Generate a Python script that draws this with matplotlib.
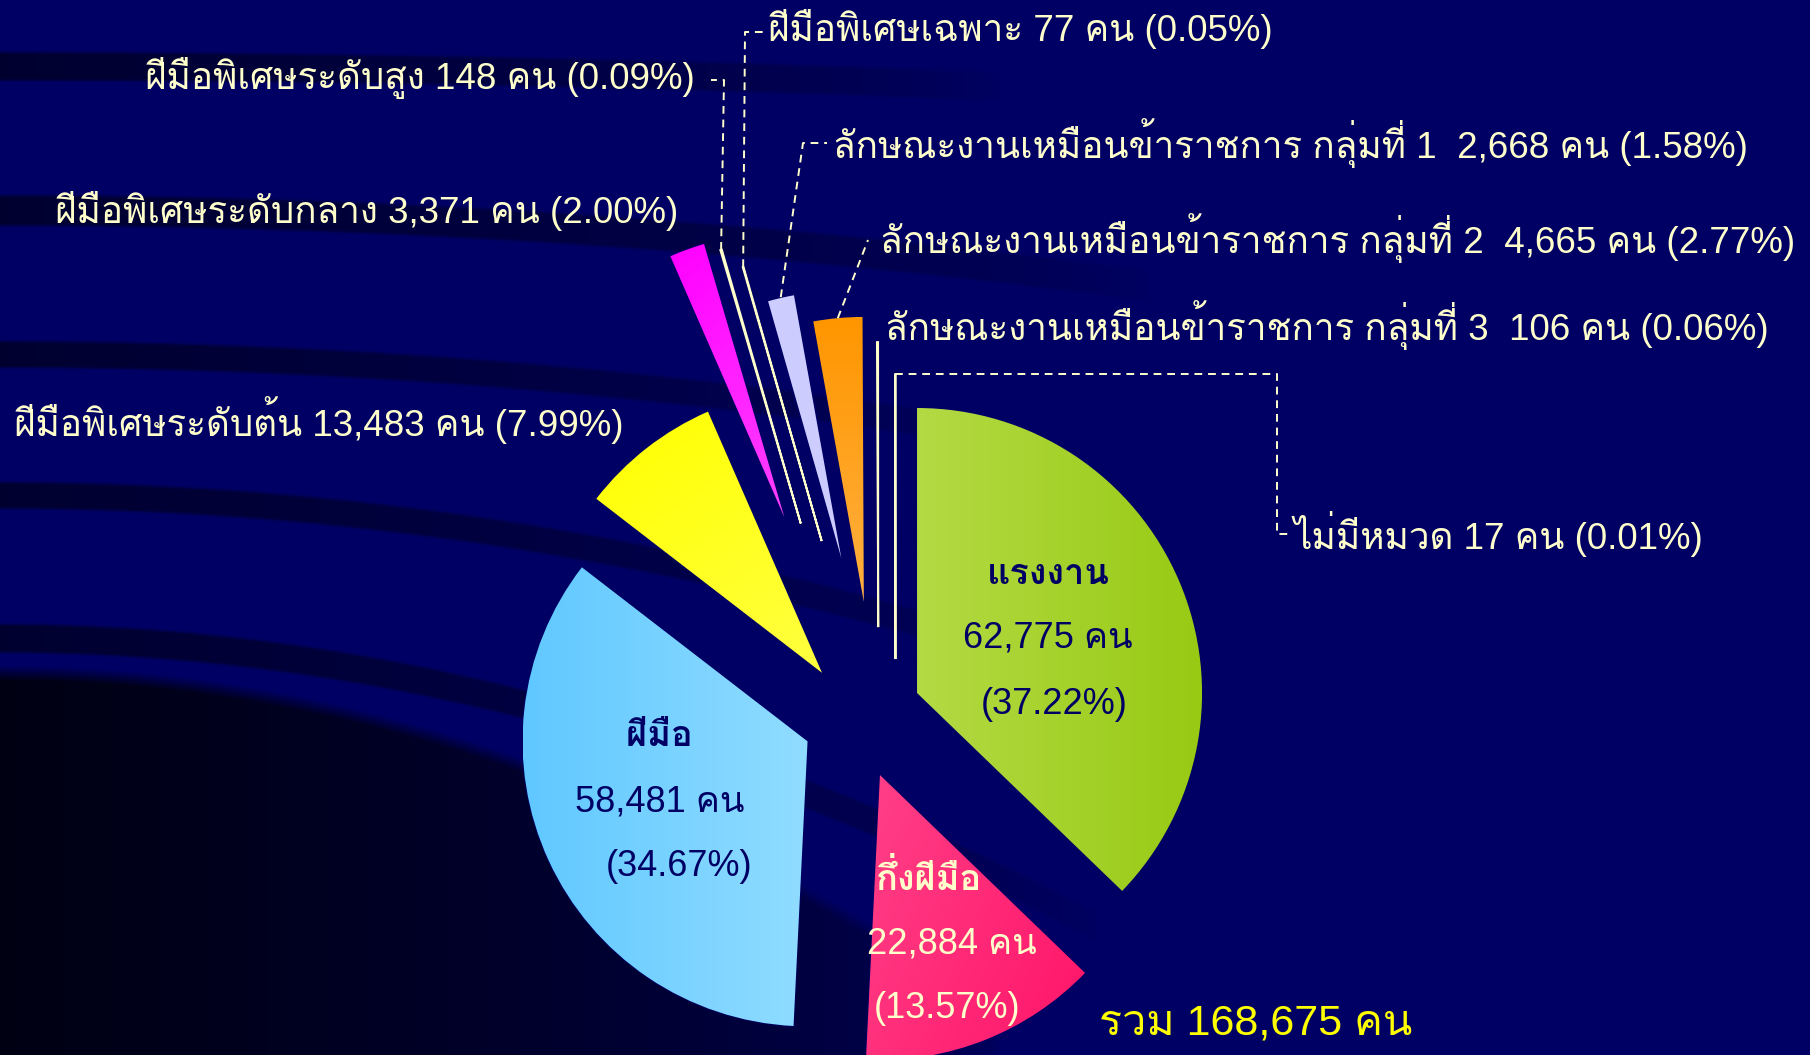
import numpy as np
import matplotlib
matplotlib.use('Agg')
import matplotlib.pyplot as plt
from matplotlib.colors import to_rgb

# ---- data ----
labels = ['แรงงาน', 'กึ่งฝีมือ', 'ฝีมือ', 'ฝีมือพิเศษระดับต้น', 'ฝีมือพิเศษระดับกลาง',
          'ฝีมือพิเศษระดับสูง', 'ฝีมือพิเศษเฉพาะ',
          'ลักษณะงานเหมือนข้าราชการ กลุ่มที่ 1', 'ลักษณะงานเหมือนข้าราชการ กลุ่มที่ 2',
          'ลักษณะงานเหมือนข้าราชการ กลุ่มที่ 3', 'ไม่มีหมวด']
counts = [62775, 22884, 58481, 13483, 3371, 148, 77, 2668, 4665, 106, 17]
percents = [37.22, 13.57, 34.67, 7.99, 2.00, 0.09, 0.05, 1.58, 2.77, 0.06, 0.01]
total = 168675

# ---- style ----
W, H = 1810, 1055
NAVY = '#000064'
CREAM = '#FFFFCC'
FONT = ['Liberation Sans', 'Loma']
plt.rcParams['font.family'] = FONT

colors = ['#A8D22E', '#FF2A78', '#78D2FF', '#FFFF22', '#FF22FF',
          CREAM, CREAM, '#CCCCFF', '#FFA020', CREAM, CREAM]
# gradient (start colour, end colour, direction in degrees)
grads = {0: ('#B4DA44', '#98CA14', 0), 1: ('#FF4088', '#FF1468', -30),
         2: ('#60C8FF', '#90DCFF', 0), 3: ('#FFFF00', '#FFFF40', -60),
         4: ('#FF00FF', '#FF40FF', -70), 8: ('#FF9600', '#FFB040', -90)}
thin = [5, 6, 9, 10]
R = 285
explode = [0.227, 0.214, 0.193, 0.2025, 0.75, 0.712, 0.647, 0.517, 0.41, 0.32, 0.208]
nudge_x = [0, 0, 0, 0, 0, 0, 15, 21, 17, 21, 38]
cx, cy = 857.5, H - 718.3

fig = plt.figure(figsize=(18.1, 10.55), dpi=100)
ax = fig.add_axes([0, 0, 1, 1])

# background with dark swooshes
yy, xx = np.mgrid[0:H, 0:W].astype(float)
shade = np.zeros((H, W))
for y0, b, hw, fade in [(66, 2e-5, 14, 1000), (210, 5.7e-5, 15, 1150),
                        (354, 8e-5, 13, 1000), (495, 1.52e-4, 13, 1050),
                        (638, 2.4e-4, 14, 1100)]:
    d = np.abs(yy - (y0 + b * xx ** 2))
    m = np.clip((hw - d) / 4 + 0.5, 0, 1) * np.clip(1 - xx / fade, 0, 1) ** 0.6
    shade = np.maximum(shade, 0.55 * m)
yb = 665 + 3.4e-4 * xx ** 2
m = np.clip((yy - yb) / 15, 0, 1) * np.clip(1 - xx / 1000, 0, 1) ** 0.5
shade = np.maximum(shade, 0.85 * m)
base = np.array(to_rgb(NAVY))
bg = base[None, None, :] * (1 - shade[..., None]) + np.array([0, 0, 0.02])[None, None, :] * shade[..., None]
ax.imshow(bg, extent=[0, W, 0, H], origin='upper', zorder=0, interpolation='bilinear')

# explode is given in data units by ax.pie, so scale by the radius
wedges, _ = ax.pie(counts, explode=[e * R for e in explode], center=(cx, cy), radius=R,
                   startangle=90, counterclock=False, colors=colors,
                   wedgeprops=dict(edgecolor=NAVY, linewidth=1.2))
for i, w in enumerate(wedges):
    x0, y0 = w.center
    w.set_center((x0 + nudge_x[i], y0))
for i in thin:
    wedges[i].set_edgecolor(CREAM)
    wedges[i].set_linewidth(1.4)
    wedges[i].set_zorder(2)

# gradient fill clipped to the wedges
gx, gy = np.meshgrid(np.linspace(0, 1, 80), np.linspace(0, 1, 80))
for i, (c0, c1, ang) in grads.items():
    w = wedges[i]
    ext = w.get_path().get_extents()
    a = np.deg2rad(ang)
    s = gx * np.cos(a) + gy * np.sin(a)
    s = (s - s.min()) / (s.max() - s.min())
    img = np.array(to_rgb(c0)) * (1 - s[..., None]) + np.array(to_rgb(c1)) * s[..., None]
    im = ax.imshow(img, extent=[ext.x0, ext.x1, ext.y0, ext.y1], origin='lower',
                   zorder=1.5, interpolation='bilinear')
    im.set_clip_path(w)


def top_point(i):
    w = wedges[i]
    mid = np.deg2rad((w.theta1 + w.theta2) / 2)
    return w.center[0] + w.r * np.cos(mid), w.center[1] + w.r * np.sin(mid)


# leader lines (layout points in screen pixels, y from top)
leaders = {6: [(745, 32), (763, 32)], 5: [(724, 80), (711, 80)],
           7: [(803, 143), (827, 143)], 8: [(868, 240)]}
for i, pts in leaders.items():
    tx, ty = top_point(i)
    xs = [tx] + [p[0] for p in pts]
    ys = [ty] + [H - p[1] for p in pts]
    ax.plot(xs, ys, color=CREAM, lw=1.4, dashes=(4, 3), zorder=3)
tx, ty = top_point(10)
ax.plot([tx, 1277, 1277, 1288], [ty, ty, H - 534, H - 534], color=CREAM, lw=1.4,
        dashes=(4, 3), zorder=3)

# outer labels
FS = 26.5
outer = {3: (14, 420, 'left'), 4: (55, 211, 'left'), 5: (695, 78, 'right'),
         6: (768, 29, 'left'), 7: (833, 143, 'left'), 8: (880, 238, 'left'),
         9: (885, 325, 'left'), 10: (1293, 534, 'left')}
for i, (x, y, ha) in outer.items():
    gap = '  ' if 'กลุ่ม' in labels[i] else ' '
    s = f'{labels[i]}{gap}{counts[i]:,} คน ({percents[i]:.2f}%)'
    ax.text(x, H - y, s, fontsize=FS, color=CREAM, ha=ha, va='center', zorder=4)

# labels inside the big slices
inner = {0: ([(1048, 574), (1048, 638), (1054, 704)], NAVY),
         2: ([(660, 736), (660, 802), (679, 866)], NAVY),
         1: ([(929, 880), (952, 944), (947, 1008)], CREAM)}
for i, (pos, col) in inner.items():
    lines = [labels[i], f'{counts[i]:,} คน', f'({percents[i]:.2f}%)']
    for k, ((x, y), s) in enumerate(zip(pos, lines)):
        ax.text(x, H - y, s, fontsize=26, color=col, ha='center', va='center', zorder=4,
                fontweight='bold' if k == 0 else 'normal')

ax.text(1099, H - 1024, f'รวม {total:,} คน', fontsize=31, color='#FFFF00',
        ha='left', va='center', zorder=4)

ax.set_xlim(0, W)
ax.set_ylim(0, H)
ax.set_aspect('equal')
ax.axis('off')
fig.savefig('out.png', dpi=100, facecolor=NAVY)
